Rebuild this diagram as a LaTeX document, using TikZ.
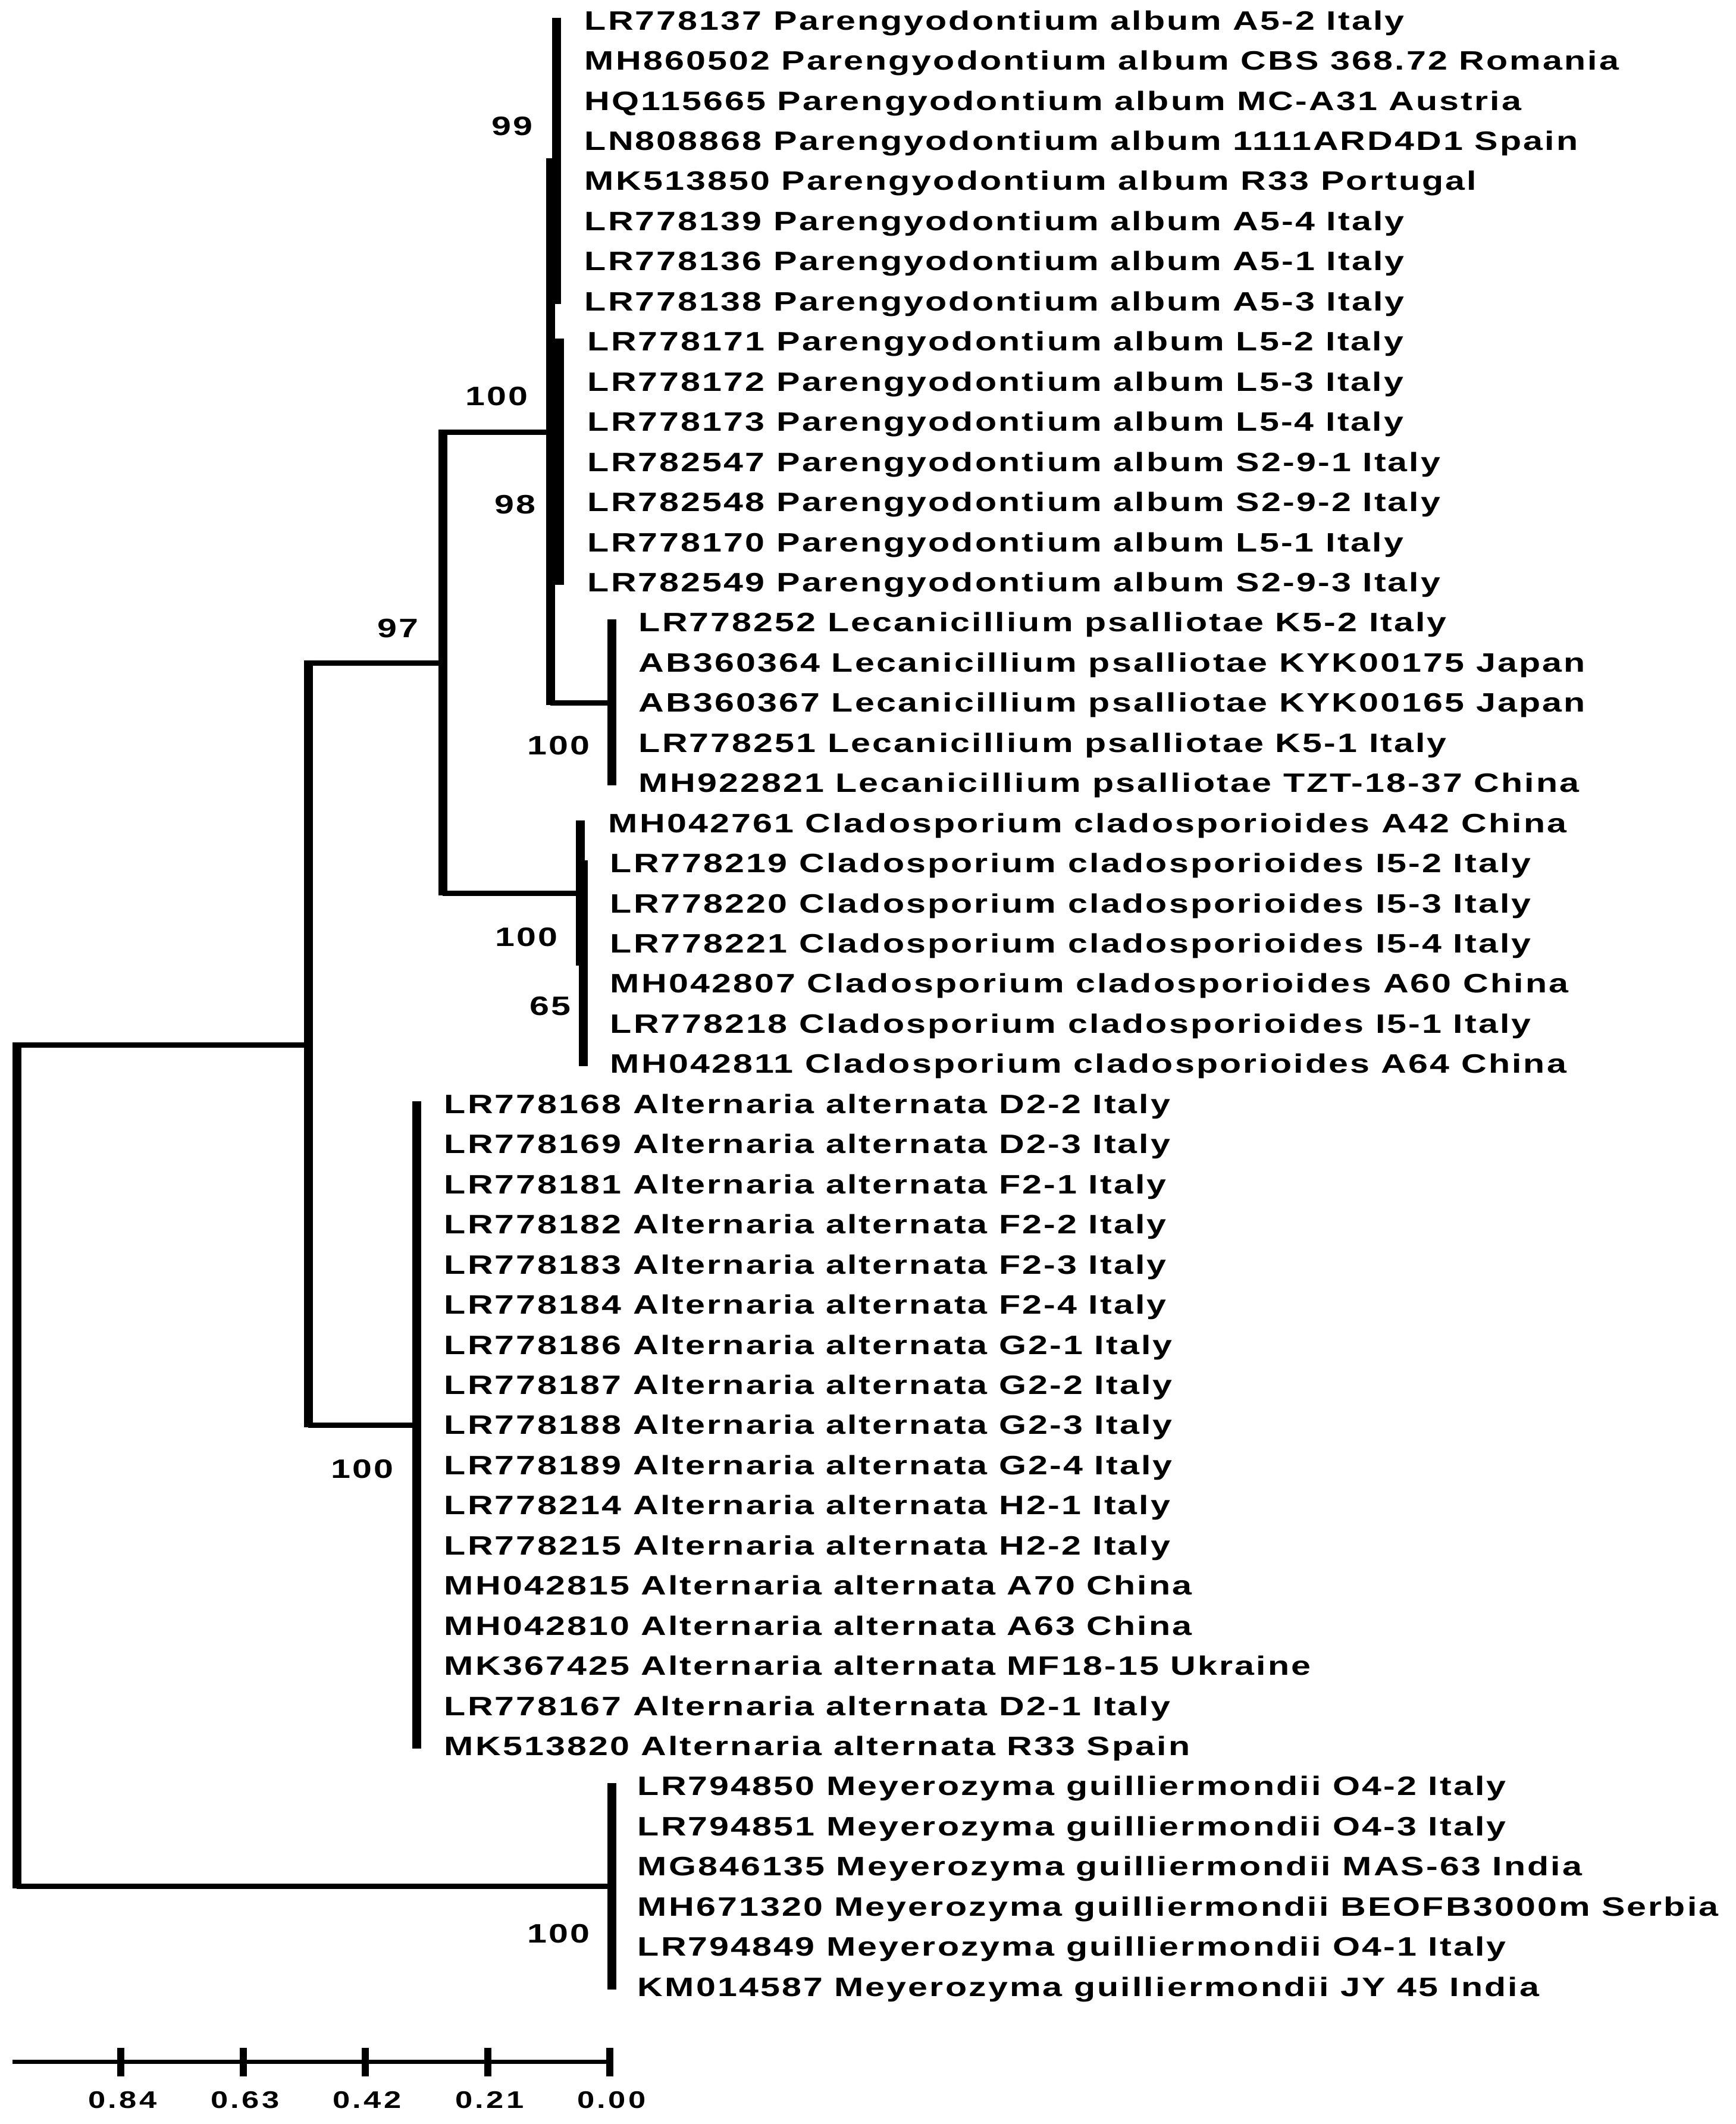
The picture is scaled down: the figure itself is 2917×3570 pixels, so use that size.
\documentclass[tikz,border=0pt]{standalone}
\usepackage{fontspec}
\setmainfont{Liberation Sans}
\newfontfamily\treefont[FakeStretch=1.32, LetterSpace=7]{Liberation Sans Bold}
\newfontfamily\axisfont[FakeStretch=1.3, LetterSpace=11]{Liberation Sans Bold}
\begin{document}
\begin{tikzpicture}[
            x=0.25pt, y=-0.25pt,
            vbranch/.style={line width=3.75pt, shorten <=-1.1pt, shorten >=-1.1pt},
            hbranch/.style={line width=2.25pt},
            leaf/.style={anchor=west, inner sep=0pt, text height=8.06pt, text depth=0pt, font=\treefont\fontsize{11.2}{13}\selectfont},
            boot/.style={anchor=center, inner sep=0pt, text height=8.06pt, text depth=0pt, font=\treefont\fontsize{11.2}{13}\selectfont},
            axisline/.style={line width=1.75pt},
            tickline/.style={line width=3pt},
            scalelab/.style={anchor=center, inner sep=0pt, text height=7.2pt, text depth=0pt, font=\axisfont\fontsize{10.1}{12}\selectfont},
        ]
            \useasboundingbox (0,0) rectangle (2917,3570);
            % Parengyodontium
            \node[leaf] (LR778137) at (982,34) {LR778137 Parengyodontium album A5-2 Italy};
            \node[leaf] (MH860502) at (982,101.5) {MH860502 Parengyodontium album CBS 368.72 Romania};
            \node[leaf] (HQ115665) at (982,168.9) {HQ115665 Parengyodontium album MC-A31 Austria};
            \node[leaf] (LN808868) at (982,236.4) {LN808868 Parengyodontium album 1111ARD4D1 Spain};
            \node[leaf] (MK513850) at (982,303.8) {MK513850 Parengyodontium album R33 Portugal};
            \node[leaf] (LR778139) at (982,371.3) {LR778139 Parengyodontium album A5-4 Italy};
            \node[leaf] (LR778136) at (982,438.7) {LR778136 Parengyodontium album A5-1 Italy};
            \node[leaf] (LR778138) at (982,506.2) {LR778138 Parengyodontium album A5-3 Italy};
            \node[leaf] (LR778171) at (987,573.6) {LR778171 Parengyodontium album L5-2 Italy};
            \node[leaf] (LR778172) at (987,641.1) {LR778172 Parengyodontium album L5-3 Italy};
            \node[leaf] (LR778173) at (987,708.5) {LR778173 Parengyodontium album L5-4 Italy};
            \node[leaf] (LR782547) at (987,776) {LR782547 Parengyodontium album S2-9-1 Italy};
            \node[leaf] (LR782548) at (987,843.4) {LR782548 Parengyodontium album S2-9-2 Italy};
            \node[leaf] (LR778170) at (987,910.9) {LR778170 Parengyodontium album L5-1 Italy};
            \node[leaf] (LR782549) at (987,978.3) {LR782549 Parengyodontium album S2-9-3 Italy};
            % Lecanicillium
            \node[leaf] (LR778252) at (1073,1045.8) {LR778252 Lecanicillium psalliotae K5-2 Italy};
            \node[leaf] (AB360364) at (1073,1113.2) {AB360364 Lecanicillium psalliotae KYK00175 Japan};
            \node[leaf] (AB360367) at (1073,1180.7) {AB360367 Lecanicillium psalliotae KYK00165 Japan};
            \node[leaf] (LR778251) at (1073,1248.1) {LR778251 Lecanicillium psalliotae K5-1 Italy};
            \node[leaf] (MH922821) at (1073,1315.6) {MH922821 Lecanicillium psalliotae TZT-18-37 China};
            % Cladosporium
            \node[leaf] (MH042761) at (1022,1383) {MH042761 Cladosporium cladosporioides A42 China};
            \node[leaf] (LR778219) at (1025,1450.5) {LR778219 Cladosporium cladosporioides I5-2 Italy};
            \node[leaf] (LR778220) at (1025,1517.9) {LR778220 Cladosporium cladosporioides I5-3 Italy};
            \node[leaf] (LR778221) at (1025,1585.4) {LR778221 Cladosporium cladosporioides I5-4 Italy};
            \node[leaf] (MH042807) at (1025,1652.8) {MH042807 Cladosporium cladosporioides A60 China};
            \node[leaf] (LR778218) at (1025,1720.3) {LR778218 Cladosporium cladosporioides I5-1 Italy};
            \node[leaf] (MH042811) at (1025,1787.7) {MH042811 Cladosporium cladosporioides A64 China};
            % Alternaria
            \node[leaf] (LR778168) at (746,1855.2) {LR778168 Alternaria alternata D2-2 Italy};
            \node[leaf] (LR778169) at (746,1922.6) {LR778169 Alternaria alternata D2-3 Italy};
            \node[leaf] (LR778181) at (746,1990.1) {LR778181 Alternaria alternata F2-1 Italy};
            \node[leaf] (LR778182) at (746,2057.5) {LR778182 Alternaria alternata F2-2 Italy};
            \node[leaf] (LR778183) at (746,2125) {LR778183 Alternaria alternata F2-3 Italy};
            \node[leaf] (LR778184) at (746,2192.4) {LR778184 Alternaria alternata F2-4 Italy};
            \node[leaf] (LR778186) at (746,2259.9) {LR778186 Alternaria alternata G2-1 Italy};
            \node[leaf] (LR778187) at (746,2327.3) {LR778187 Alternaria alternata G2-2 Italy};
            \node[leaf] (LR778188) at (746,2394.8) {LR778188 Alternaria alternata G2-3 Italy};
            \node[leaf] (LR778189) at (746,2462.2) {LR778189 Alternaria alternata G2-4 Italy};
            \node[leaf] (LR778214) at (746,2529.7) {LR778214 Alternaria alternata H2-1 Italy};
            \node[leaf] (LR778215) at (746,2597.1) {LR778215 Alternaria alternata H2-2 Italy};
            \node[leaf] (MH042815) at (746,2664.6) {MH042815 Alternaria alternata A70 China};
            \node[leaf] (MH042810) at (746,2732) {MH042810 Alternaria alternata A63 China};
            \node[leaf] (MK367425) at (746,2799.5) {MK367425 Alternaria alternata MF18-15 Ukraine};
            \node[leaf] (LR778167) at (746,2866.9) {LR778167 Alternaria alternata D2-1 Italy};
            \node[leaf] (MK513820) at (746,2934.4) {MK513820 Alternaria alternata R33 Spain};
            % Meyerozyma
            \node[leaf] (LR794850) at (1071,3001.8) {LR794850 Meyerozyma guilliermondii O4-2 Italy};
            \node[leaf] (LR794851) at (1071,3069.3) {LR794851 Meyerozyma guilliermondii O4-3 Italy};
            \node[leaf] (MG846135) at (1071,3136.7) {MG846135 Meyerozyma guilliermondii MAS-63 India};
            \node[leaf] (MH671320) at (1071,3204.2) {MH671320 Meyerozyma guilliermondii BEOFB3000m Serbia};
            \node[leaf] (LR794849) at (1071,3271.6) {LR794849 Meyerozyma guilliermondii O4-1 Italy};
            \node[leaf] (KM014587) at (1071,3339.1) {KM014587 Meyerozyma guilliermondii JY 45 India};
            % inner nodes
            \coordinate (root) at (28,2463);
            \coordinate (nodeA) at (518,1756);
            \coordinate (nodeB) at (744,1114);
            \coordinate (nodeC) at (925,726);
            \coordinate (paren99) at (935,270);
            \coordinate (paren98) at (940,776);
            \coordinate (lecan) at (1028,1181);
            \coordinate (clado) at (975,1501);
            \coordinate (clado65) at (980,1619);
            \coordinate (alter) at (700,2395);
            \coordinate (meyer) at (1028,3170);
            % vertical branches
            \draw[vbranch] (root |- nodeA) -- (root |- meyer);
            \draw[vbranch] (nodeA |- nodeB) -- (nodeA |- alter);
            \draw[vbranch] (nodeB |- nodeC) -- (nodeB |- clado);
            \draw[vbranch] (nodeC |- paren99) -- (nodeC |- lecan);
            \draw[vbranch] (paren99 |- LR778137) -- (paren99 |- LR778138);
            \draw[vbranch] (paren98 |- LR778171) -- (paren98 |- LR782549);
            \draw[vbranch] (lecan |- LR778252) -- (lecan |- MH922821);
            \draw[vbranch] (clado |- MH042761) -- (clado |- clado65);
            \draw[vbranch] (clado65 |- LR778219) -- (clado65 |- MH042811);
            \draw[vbranch] (alter |- LR778168) -- (alter |- MK513820);
            \draw[vbranch] (meyer |- LR794850) -- (meyer |- KM014587);
            % horizontal branches
            \draw[hbranch] (root |- nodeA) -- (nodeA);
            \draw[hbranch] (root |- meyer) -- (meyer);
            \draw[hbranch] (nodeA |- nodeB) -- (nodeB);
            \draw[hbranch] (nodeA |- alter) -- (alter);
            \draw[hbranch] (nodeB |- nodeC) -- (nodeC);
            \draw[hbranch] (nodeB |- clado) -- (clado);
            \draw[hbranch] (nodeC |- paren99) -- (paren99);
            \draw[hbranch] (nodeC |- paren98) -- (paren98);
            \draw[hbranch] (nodeC |- lecan) -- (lecan);
            \draw[hbranch] (clado |- clado65) -- (clado65);
            % bootstrap values
            \node[boot] (boot99) at (861,211) {99};
            \node[boot] (bootC) at (835,665) {100};
            \node[boot] (boot98) at (866,847) {98};
            \node[boot] (boot97) at (669,1055) {97};
            \node[boot] (bootLecan) at (939,1252) {100};
            \node[boot] (bootClado) at (885,1574) {100};
            \node[boot] (boot65) at (925,1690) {65};
            \node[boot] (bootAlter) at (609,2468) {100};
            \node[boot] (bootMeyer) at (939,3249) {100};
            % scale
            \coordinate (scaleL) at (21,3465);
            \coordinate (scaleR) at (1025,3465);
            \draw[axisline] (scaleL) -- (scaleR);
            \draw[tickline] (203,3442) -- (203,3490);
            \draw[tickline] (409,3442) -- (409,3490);
            \draw[tickline] (614,3442) -- (614,3490);
            \draw[tickline] (820,3442) -- (820,3490);
            \draw[tickline] (1025,3442) -- (1025,3490);
            \node[scalelab] (s84) at (206,3529) {0.84};
            \node[scalelab] (s63) at (412,3529) {0.63};
            \node[scalelab] (s42) at (617,3529) {0.42};
            \node[scalelab] (s21) at (823,3529) {0.21};
            \node[scalelab] (s00) at (1028,3529) {0.00};
        \end{tikzpicture}
\end{document}
